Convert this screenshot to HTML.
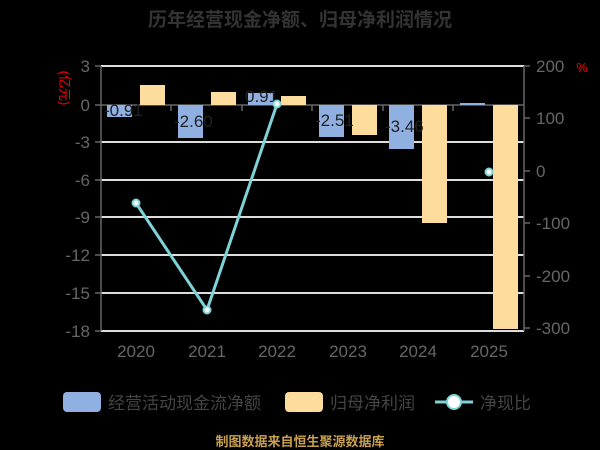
<!DOCTYPE html><html><head><style>body{margin:0;background:#000;}svg{display:block}</style></head><body>
<svg width="600" height="450" xmlns="http://www.w3.org/2000/svg" font-family="Liberation Sans, Noto Sans CJK SC, sans-serif">
<rect width="600" height="450" fill="#000"/>
<text x="300" y="26" text-anchor="middle" font-size="19" font-weight="bold" fill="#333">历年经营现金净额、归母净利润情况</text>
<g stroke="#ddd" stroke-width="2">
<line x1="101" y1="66" x2="524" y2="66"/><line x1="101" y1="142" x2="524" y2="142"/><line x1="101" y1="180" x2="524" y2="180"/><line x1="101" y1="217" x2="524" y2="217"/><line x1="101" y1="255" x2="524" y2="255"/><line x1="101" y1="293" x2="524" y2="293"/><line x1="101" y1="331" x2="524" y2="331"/>
</g>
<g stroke="#666" stroke-width="1.5"><line x1="101" y1="66" x2="101" y2="331"/><line x1="524" y1="66" x2="524" y2="331"/><line x1="101" y1="105" x2="524" y2="105"/>
<line x1="95" y1="66" x2="101" y2="66"/><line x1="95" y1="105" x2="101" y2="105"/><line x1="95" y1="142" x2="101" y2="142"/><line x1="95" y1="180" x2="101" y2="180"/><line x1="95" y1="217" x2="101" y2="217"/><line x1="95" y1="255" x2="101" y2="255"/><line x1="95" y1="293" x2="101" y2="293"/><line x1="95" y1="331" x2="101" y2="331"/>
<line x1="524" y1="66" x2="530" y2="66"/><line x1="524" y1="118" x2="530" y2="118"/><line x1="524" y1="171" x2="530" y2="171"/><line x1="524" y1="223" x2="530" y2="223"/><line x1="524" y1="276" x2="530" y2="276"/><line x1="524" y1="328" x2="530" y2="328"/>
<line x1="171" y1="105" x2="171" y2="111"/><line x1="242" y1="105" x2="242" y2="111"/><line x1="312" y1="105" x2="312" y2="111"/><line x1="383" y1="105" x2="383" y2="111"/><line x1="453" y1="105" x2="453" y2="111"/></g>
<g font-size="17" fill="#666" text-anchor="end">
<text x="90" y="72">3</text><text x="90" y="111">0</text><text x="90" y="148">-3</text><text x="90" y="186">-6</text><text x="90" y="223">-9</text><text x="90" y="261">-12</text><text x="90" y="299">-15</text><text x="90" y="337">-18</text></g>
<g font-size="17" fill="#666"><text x="536" y="72">200</text><text x="536" y="124">100</text><text x="536" y="177">0</text><text x="536" y="229">-100</text><text x="536" y="282">-200</text><text x="536" y="334">-300</text></g>
<text x="60" y="88" font-size="13" fill="red" text-anchor="middle" transform="rotate(90 60 88)">(亿元)</text>
<text x="582" y="72" font-size="13" fill="red" text-anchor="middle">%</text>
<g fill="#8fb0e0"><rect x="107" y="105" width="25" height="12"/><rect x="178" y="105" width="25" height="33"/><rect x="248" y="93" width="25" height="12"/><rect x="319" y="105" width="25" height="32"/><rect x="389" y="105" width="25" height="44"/><rect x="460" y="103" width="25" height="2"/></g>
<g fill="#fddc9e"><rect x="140" y="85" width="25" height="20"/><rect x="211" y="92" width="25" height="13"/><rect x="281" y="96" width="25" height="9"/><rect x="352" y="105" width="25" height="30"/><rect x="422" y="105" width="25" height="118"/><rect x="493" y="105" width="25" height="224"/></g>
<g font-size="17" fill="#222"><text x="104" y="116">-0.91</text><text x="174" y="127">-2.60</text><text x="245" y="102">0.91</text><text x="315" y="126">-2.51</text><text x="385" y="132">-3.46</text></g>
<polyline points="136,203 207,310 277,104" fill="none" stroke="#7fd3d8" stroke-width="3"/>
<g fill="#fff" stroke="#7fd3d8" stroke-width="2"><circle cx="136" cy="203" r="3.5"/><circle cx="207" cy="310" r="3.5"/><circle cx="277" cy="104" r="3.5"/><circle cx="489" cy="172" r="3.5"/></g>
<g font-size="17" fill="#666" text-anchor="middle"><text x="136" y="357">2020</text><text x="207" y="357">2021</text><text x="277" y="357">2022</text><text x="348" y="357">2023</text><text x="418" y="357">2024</text><text x="489" y="357">2025</text></g>
<rect x="63" y="392" width="38" height="20" rx="4" fill="#8fb0e0"/><text x="108" y="409" font-size="17" fill="#444">经营活动现金流净额</text>
<rect x="285" y="392" width="38" height="20" rx="4" fill="#fddc9e"/><text x="330" y="409" font-size="17" fill="#444">归母净利润</text>
<line x1="435" y1="402" x2="473" y2="402" stroke="#7fd3d8" stroke-width="3"/><circle cx="454" cy="402" r="7" fill="#fff" stroke="#7fd3d8" stroke-width="2"/><text x="480" y="409" font-size="17" fill="#444">净现比</text>
<text x="300" y="446" font-size="13" font-weight="bold" fill="#c8a050" text-anchor="middle">制图数据来自恒生聚源数据库</text>
</svg></body></html>
